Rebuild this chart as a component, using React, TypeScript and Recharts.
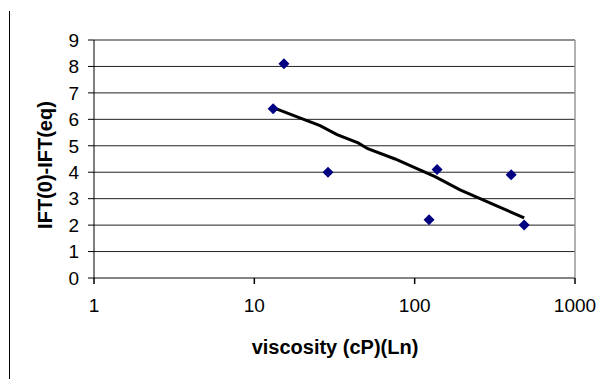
import React from "react";
import { ScatterChart, Scatter, XAxis, YAxis, CartesianGrid, ReferenceLine, Label } from "recharts";

const viscosity = [13.1, 15.3, 28.8, 123, 138, 400, 482];
const iftDiff = [6.4, 8.1, 4.0, 2.2, 4.1, 3.9, 2.0];
const trendX = [13.1, 20.7, 25.7, 32.8, 44.4, 51, 75.5, 100, 134, 192, 317, 482];
const trendY = [6.44, 5.98, 5.76, 5.42, 5.11, 4.89, 4.5, 4.17, 3.83, 3.33, 2.76, 2.27];
const xTicks = [1, 10, 100, 1000];
const yTicks = [0, 1, 2, 3, 4, 5, 6, 7, 8, 9];

const points = viscosity.map((v, i) => ({ x: v, y: iftDiff[i] }));
const trend = trendX.map((v, i) => ({ x: v, y: trendY[i] }));

const FONT = "'Liberation Sans', Arial, sans-serif";

const Diamond = (props: any) => {
  const { cx, cy } = props;
  const r = 5.5;
  return (
    <polygon
      points={`${cx},${cy - r} ${cx + r},${cy} ${cx},${cy + r} ${cx - r},${cy}`}
      fill="#000080"
    />
  );
};

const NoShape = () => null;

const YLabel = (props: any) => {
  const { viewBox } = props;
  const cx = 45;
  const cy = viewBox.y + viewBox.height / 2 + 6;
  return (
    <text
      x={cx}
      y={cy}
      transform={`rotate(-90 ${cx} ${cy})`}
      textAnchor="middle"
      dominantBaseline="central"
      fontFamily={FONT}
      fontWeight="bold"
      fontSize={20}
      fill="#000"
    >
      IFT(0)-IFT(eq)
    </text>
  );
};

const XLabel = () => {
  const cx = 335;
  const cy = 347;
  return (
    <text
      x={cx}
      y={cy}
      textAnchor="middle"
      dominantBaseline="central"
      fontFamily={FONT}
      fontWeight="bold"
      fontSize={20}
      fill="#000"
    >
      viscosity (cP)(Ln)
    </text>
  );
};

export default function App() {
  return (
    <div style={{ position: "absolute", left: 0, top: 0, width: 610, height: 379, background: "#fff" }}>
      <div style={{ position: "absolute", left: 9, top: 11, width: 1, height: 368, background: "#000" }} />
      <ScatterChart
        width={610}
        height={379}
        margin={{ top: 40, right: 35, left: 0, bottom: 0 }}
      >
        <CartesianGrid horizontal={true} vertical={false} stroke="#222" strokeWidth={1} />
        <XAxis
          type="number"
          dataKey="x"
          scale="log"
          domain={[1, 1000]}
          ticks={xTicks}
          allowDataOverflow
          height={101}
          tickSize={6}
          tickMargin={15}
          stroke="#808080"
          strokeWidth={1.5}
          tick={{ fill: "#000", fontSize: 19, fontFamily: FONT }}
          tickLine={{ stroke: "#000" }}
        >
          <Label content={<XLabel />} />
        </XAxis>
        <YAxis
          type="number"
          dataKey="y"
          domain={[0, 9]}
          ticks={yTicks}
          interval={0}
          width={94}
          tickSize={6}
          tickMargin={9}
          stroke="#000"
          tick={{ fill: "#000", fontSize: 19, fontFamily: FONT }}
        >
          <Label content={<YLabel />} />
        </YAxis>
        <ReferenceLine x={1000} stroke="#999" strokeWidth={1.5} />
        <Scatter
          data={trend}
          line={{ stroke: "#000", strokeWidth: 3 }}
          shape={<NoShape />}
          isAnimationActive={false}
        />
        <Scatter data={points} shape={<Diamond />} isAnimationActive={false} />
      </ScatterChart>
    </div>
  );
}
